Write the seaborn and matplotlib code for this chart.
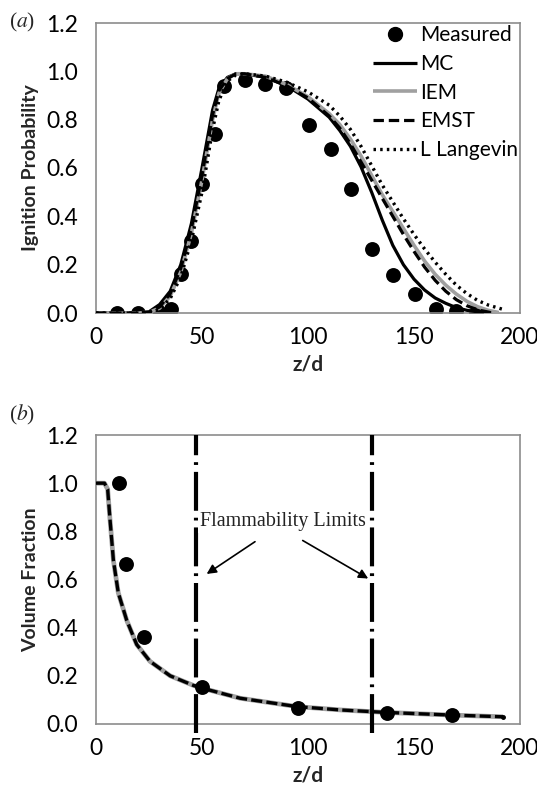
import numpy as np
import pandas as pd
import matplotlib
matplotlib.use("Agg")
import matplotlib.pyplot as plt
import seaborn as sns
from matplotlib.lines import Line2D

# ---------------- data: panel (a) ----------------
meas_z = [10, 20, 30, 35.5, 40.3, 44.7, 50, 56, 60.5, 70.3, 79.8, 89.5, 100.5, 110.8, 120.2,
          130.3, 140.3, 150.5, 160.5, 169.8, 179.4]
meas_p = [0.0, 0.0, 0.0, 0.018, 0.16, 0.30, 0.533, 0.742, 0.94, 0.963, 0.949, 0.93, 0.777,
          0.68, 0.514, 0.263, 0.159, 0.08, 0.015, 0.008, 0.0]

mc_z = [0, 10, 20, 25, 30, 35, 40, 45, 50, 55, 58, 62, 66, 70, 80, 90, 100, 110, 115, 120, 125,
        130, 135, 140, 145, 150, 155, 160, 165, 170, 175, 180, 185, 188]
mc_p = [0, 0, 0, 0.005, 0.035, 0.09, 0.2, 0.37, 0.6, 0.84, 0.93, 0.975, 0.99, 0.99, 0.975, 0.94,
        0.885, 0.81, 0.755, 0.69, 0.605, 0.5, 0.385, 0.28, 0.2, 0.14, 0.095, 0.062, 0.04, 0.022,
        0.011, 0.005, 0.001, 0]

iem_z = [0, 10, 20, 25, 30, 35, 40, 45, 50, 55, 58, 62, 66, 70, 80, 90, 100, 110, 115, 120, 125,
         130, 135, 140, 145, 150, 155, 160, 165, 170, 175, 180, 185, 190]
iem_p = [0, 0, 0, 0.003, 0.02, 0.07, 0.17, 0.33, 0.55, 0.8, 0.91, 0.97, 0.99, 0.99, 0.98, 0.945,
         0.895, 0.825, 0.78, 0.72, 0.65, 0.57, 0.49, 0.42, 0.35, 0.28, 0.215, 0.16, 0.115, 0.078,
         0.048, 0.026, 0.011, 0.002]

emst_z = [0, 10, 20, 25, 30, 35, 40, 45, 50, 55, 58, 62, 66, 70, 80, 90, 100, 110, 115, 120, 125,
          130, 135, 140, 145, 150, 155, 160, 165, 170, 175, 180, 185, 187]
emst_p = [0, 0, 0, 0.004, 0.025, 0.08, 0.185, 0.35, 0.57, 0.82, 0.92, 0.97, 0.99, 0.99, 0.975,
          0.94, 0.89, 0.815, 0.765, 0.70, 0.625, 0.55, 0.475, 0.40, 0.325, 0.255, 0.19, 0.135,
          0.09, 0.055, 0.03, 0.013, 0.004, 0]

ll_z = [0, 10, 20, 25, 30, 35, 40, 45, 50, 55, 58, 62, 66, 70, 80, 90, 100, 110, 115, 120, 125,
        130, 135, 140, 145, 150, 155, 160, 165, 170, 175, 180, 185, 190, 192]
ll_p = [0, 0, 0, 0.002, 0.015, 0.06, 0.15, 0.3, 0.5, 0.76, 0.88, 0.96, 0.985, 0.99, 0.98, 0.955,
        0.915, 0.86, 0.815, 0.76, 0.69, 0.61, 0.53, 0.46, 0.39, 0.325, 0.265, 0.21, 0.16, 0.115,
        0.08, 0.052, 0.033, 0.02, 0.015]

# ---------------- data: panel (b) ----------------
vf_meas_z = [10.7, 14.3, 22.6, 49.8, 95.4, 137.2, 168.1]
vf_meas_v = [1.0, 0.665, 0.36, 0.152, 0.065, 0.045, 0.038]

vf_z = [0, 4, 5.5, 6.6, 8.2, 10.5, 14.5, 19.2, 25.5, 35, 46, 50.4, 68, 95, 116, 137, 168, 192]
vf_v = [1, 1, 0.975, 0.85, 0.68, 0.545, 0.43, 0.33, 0.26, 0.2, 0.16, 0.148, 0.107, 0.072, 0.058,
        0.048, 0.037, 0.03]

flamm_limits = [47, 130]

x_ticks = [0, 50, 100, 150, 200]
y_ticks = [0.0, 0.2, 0.4, 0.6, 0.8, 1.0, 1.2]

# ---------------- style ----------------
sns.set_theme(style="white")
plt.rcParams["font.family"] = ["Lato", "DejaVu Sans"]
plt.rcParams["mathtext.fontset"] = "stix"
plt.rcParams["lines.scale_dashes"] = False
plt.rcParams["lines.solid_capstyle"] = "butt"

W, H, DPI = 537, 797, 100
fig = plt.figure(figsize=(W / DPI, H / DPI), dpi=DPI)
left, right = 96 / W, 520 / W
ax1 = fig.add_axes([left, 1 - 313 / H, right - left, (313 - 23) / H])
ax2 = fig.add_axes([left, 1 - 724 / H, right - left, (724 - 435) / H])

spine_col = "#8c8c8c"
tick_fs = 16.5
lab_fs = 14


def style_axes(ax, ylabel):
    ax.set_xlim(0, 200)
    ax.set_ylim(0, 1.2)
    ax.set_xticks(x_ticks)
    ax.set_xticklabels([f"{t:d}" for t in x_ticks])
    ax.set_yticks(y_ticks)
    ax.set_yticklabels([f"{t:.1f}" for t in y_ticks])
    for s in ax.spines.values():
        s.set_visible(True)
        s.set_color(spine_col)
        s.set_linewidth(1.2)
    ax.tick_params(axis="both", direction="out", length=5, width=1.1, color=spine_col,
                   labelsize=tick_fs, labelcolor="black")
    ax.tick_params(axis="y", pad=8)
    ax.tick_params(axis="x", pad=5)
    ax.set_xlabel("z/d", fontsize=15, fontweight="bold", labelpad=5)
    ax.set_ylabel(ylabel, fontsize=lab_fs, fontweight="bold", labelpad=5)
    ax.grid(False)


# ---------------- panel (a) ----------------
df_meas = pd.DataFrame({"z": meas_z, "p": meas_p})
sns.scatterplot(data=df_meas, x="z", y="p", ax=ax1, color="black", s=115, edgecolor="black",
                linewidth=0, zorder=2, legend=False)

series = [
    ("MC", mc_z, mc_p, dict(color="black", lw=2.3, ls="-")),
    ("IEM", iem_z, iem_p, dict(color="#a0a0a0", lw=2.6, ls="-")),
    ("EMST", emst_z, emst_p, dict(color="black", lw=2.3, ls=(0, (7.5, 3.5)))),
    ("L Langevin", ll_z, ll_p, dict(color="black", lw=2.4, ls=(0, (1.8, 3.0)))),
]
handles = [Line2D([], [], ls="none", marker="o", color="black", markersize=10)]
labels = ["Measured"]
for name, zz, pp, st in series:
    d = pd.DataFrame({"z": zz, "p": pp})
    sns.lineplot(data=d, x="z", y="p", ax=ax1, sort=False, estimator=None, color=st["color"],
                 linewidth=st["lw"], linestyle=st["ls"], zorder=3, legend=False)
    handles.append(Line2D([], [], color=st["color"], lw=st["lw"], ls=st["ls"]))
    labels.append(name)

style_axes(ax1, "Ignition Probability")
leg = ax1.legend(handles, labels, loc="upper right", bbox_to_anchor=(1.0, 1.0), frameon=False,
                 fontsize=15, handlelength=2.1, handletextpad=0.15, labelspacing=0.42,
                 borderaxespad=0.1, borderpad=0.0)
for t in leg.get_texts():
    t.set_color("black")

# ---------------- panel (b) ----------------
df_vm = pd.DataFrame({"z": vf_meas_z, "v": vf_meas_v})
sns.scatterplot(data=df_vm, x="z", y="v", ax=ax2, color="black", s=115, linewidth=0, zorder=4,
                legend=False)
df_v = pd.DataFrame({"z": vf_z, "v": vf_v})
sns.lineplot(data=df_v, x="z", y="v", ax=ax2, sort=False, estimator=None, color="#a0a0a0",
             linewidth=3.4, zorder=2, legend=False)
sns.lineplot(data=df_v, x="z", y="v", ax=ax2, sort=False, estimator=None, color="black",
             linewidth=2.4, linestyle=(0, (8, 3)), zorder=3, legend=False)
ax2.plot([vf_z[-1]], [vf_v[-1]], marker="o", color="black", markersize=2.5, zorder=3)

for zl in flamm_limits:
    ax2.axvline(zl, ymin=-0.03, ymax=1.0, color="black", lw=3.0, ls=(0, (28, 5, 2, 5)),
                clip_on=False, zorder=3)

style_axes(ax2, "Volume Fraction")

ax2.text(88, 0.84, "Flammability Limits", fontsize=14.5, family=["Liberation Serif"],
         ha="center", va="center", color="#222222", zorder=5,
         bbox=dict(facecolor="white", edgecolor="none", pad=1.0))
ax2.annotate("", xy=(52.2, 0.623), xytext=(75, 0.757),
             arrowprops=dict(arrowstyle="-|>", color="black", lw=1.2, mutation_scale=14,
                             shrinkA=0, shrinkB=0))
ax2.annotate("", xy=(128.4, 0.604), xytext=(97.5, 0.762),
             arrowprops=dict(arrowstyle="-|>", color="black", lw=1.2, mutation_scale=14,
                             shrinkA=0, shrinkB=0))

# panel labels
fig.text(22 / W, 1 - 22 / H, r"($\mathit{a}$)", fontsize=15.5, family=["Liberation Serif"],
         ha="center", va="center")
fig.text(22 / W, 1 - 415 / H, r"($\mathit{b}$)", fontsize=15.5, family=["Liberation Serif"],
         ha="center", va="center")

fig.savefig("out.png", dpi=DPI)
